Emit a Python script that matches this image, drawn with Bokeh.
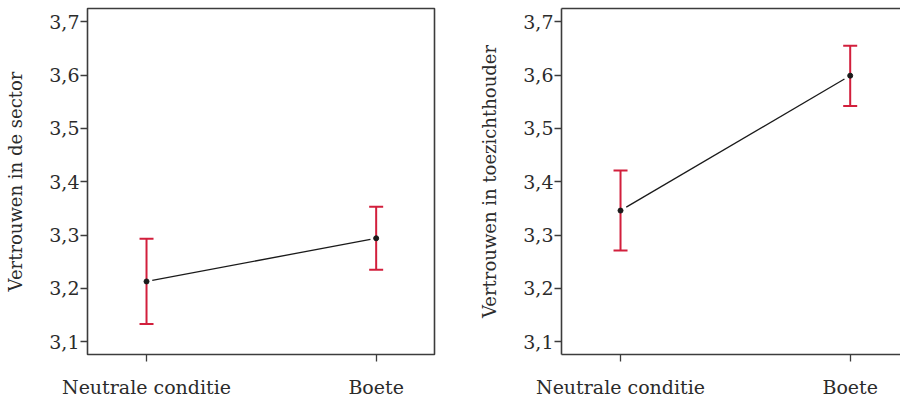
from bokeh.plotting import figure
from bokeh.layouts import row
from bokeh.models import (ColumnDataSource, Whisker, TeeHead, Range1d, FixedTicker,
                          CustomJSTickFormatter, LinearAxis)
from bokeh.embed import file_html
from bokeh.resources import INLINE

# Conditions and estimated marginal means with 95% confidence intervals
conditions = ["Neutrale conditie", "Boete"]
y_ticks = [3.1, 3.2, 3.3, 3.4, 3.5, 3.6, 3.7]

sector_mean = [3.213, 3.294]
sector_lower = [3.133, 3.235]
sector_upper = [3.293, 3.353]

toezicht_mean = [3.346, 3.599]
toezicht_lower = [3.271, 3.542]
toezicht_upper = [3.421, 3.655]

RED = "#d21f3c"
INK = "#2b2b2b"
EDGE = "#3c3c3c"
FONT = "DejaVu Serif"


def panel(means, lowers, uppers, ylabel, width, border_left, border_right, x_end, frame_right=True):
    xs = list(range(len(conditions)))
    p = figure(width=width, height=401, output_backend="svg", toolbar_location=None,
               x_range=Range1d(-0.257, x_end), y_range=Range1d(3.076, 3.725),
               min_border_left=border_left, min_border_right=border_right,
               min_border_top=8, min_border_bottom=47)
    p.grid.visible = False
    p.background_fill_color = "white"
    p.border_fill_color = "white"

    xa = p.below[0]
    ya = p.left[0]

    if frame_right:
        p.outline_line_color = EDGE
        p.outline_line_width = 1.6
        xa.axis_line_color = None
        ya.axis_line_color = None
    else:
        # three-sided frame: the right edge runs off the page
        p.outline_line_color = None
        xa.axis_line_color = EDGE
        xa.axis_line_width = 1.6
        ya.axis_line_color = EDGE
        ya.axis_line_width = 1.6
        top = LinearAxis(ticker=FixedTicker(ticks=[]), major_tick_out=0, major_tick_in=0,
                         minor_tick_out=0, minor_tick_in=0,
                         axis_line_color=EDGE, axis_line_width=1.6)
        p.add_layout(top, "above")

    # y axis
    ya.ticker = FixedTicker(ticks=y_ticks)
    ya.formatter = CustomJSTickFormatter(code="return tick.toFixed(1).replace('.', ',')")
    ya.axis_label = ylabel
    # x axis
    xa.ticker = FixedTicker(ticks=xs)
    xa.major_label_overrides = {i: c for i, c in enumerate(conditions)}

    for ax in (xa, ya):
        ax.major_tick_in = 0
        ax.major_tick_out = 7
        ax.minor_tick_out = 0
        ax.minor_tick_in = 0
        ax.major_tick_line_color = EDGE
        ax.major_tick_line_width = 1.3
        ax.major_label_text_font = FONT
        ax.major_label_text_font_size = "19px"
        ax.major_label_text_color = INK
        ax.axis_label_text_font = FONT
        ax.axis_label_text_font_size = "18px"
        ax.axis_label_text_font_style = "normal"
        ax.axis_label_text_color = INK
    ya.major_label_standoff = 1
    ya.axis_label_standoff = 20
    xa.major_label_standoff = 14

    src = ColumnDataSource(dict(x=xs, mean=means, lower=lowers, upper=uppers))

    # connecting line, stopping just short of each mean marker
    t = 0.025
    lx = [xs[0] + t, xs[1] - t]
    ly = [means[0] + t * (means[1] - means[0]), means[1] - t * (means[1] - means[0])]
    p.line(lx, ly, line_color="#1a1a1a", line_width=1.3)

    err = Whisker(base="x", upper="upper", lower="lower", source=src,
                  line_color=RED, line_width=2,
                  upper_head=TeeHead(size=14, line_color=RED, line_width=2),
                  lower_head=TeeHead(size=14, line_color=RED, line_width=2))
    p.add_layout(err)

    p.scatter("x", "mean", source=src, size=5, color="#1a1a1a")
    return p


left = panel(sector_mean, sector_lower, sector_upper, "Vertrouwen in de sector",
             450, 87, 16, 1.254)
right = panel(toezicht_mean, toezicht_lower, toezicht_upper, "Vertrouwen in toezichthouder",
              450, 111, 0, 1.219, frame_right=False)

layout = row(left, right)
open("out.html", "w").write(file_html(layout, INLINE))
